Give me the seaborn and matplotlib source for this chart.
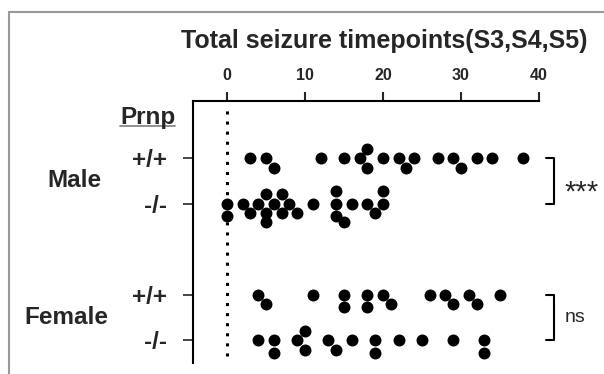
import numpy as np
import pandas as pd
import matplotlib
matplotlib.use("Agg")
import matplotlib.pyplot as plt
import matplotlib.transforms as mtransforms
from matplotlib.lines import Line2D
import seaborn as sns

# seizure timepoints per animal
male_wt = [3, 5, 6, 12, 15, 17, 18, 18, 20, 22, 23, 24, 27, 29, 30, 32, 34, 38]
male_ko = [0, 0, 2, 3, 4, 5, 5, 5, 6, 7, 7, 8, 9, 11, 14, 14, 14, 15, 16, 18, 19, 20, 20]
female_wt = [4, 5, 11, 15, 15, 18, 18, 20, 21, 26, 28, 29, 31, 32, 35]
female_ko = [4, 6, 6, 9, 10, 10, 13, 14, 16, 19, 19, 22, 25, 29, 33, 33]

groups = ["Male +/+", "Male -/-", "", "Female +/+", "Female -/-"]
genotype_labels = ["+/+", "-/-", "+/+", "-/-"]
sex_labels = ["Male", "Female"]
stats = ["***", "ns"]
xticks = [0, 10, 20, 30, 40]

df = pd.concat([
    pd.DataFrame({"group": "Male +/+", "value": male_wt}),
    pd.DataFrame({"group": "Male -/-", "value": male_ko}),
    pd.DataFrame({"group": "Female +/+", "value": female_wt}),
    pd.DataFrame({"group": "Female -/-", "value": female_ko}),
])

sns.set_style("white")
plt.rcParams['font.family'] = ['Liberation Sans', 'DejaVu Sans']

fig = plt.figure(figsize=(6.04, 3.74), dpi=100)
ax = fig.add_axes([193/604, 1 - 363/374, (539 - 193)/604, (363 - 100.5)/374])

sns.swarmplot(data=df, x="value", y="group", order=groups, orient="h",
              color="black", size=8.6, linewidth=0, ax=ax, clip_on=False)

ax.set_xlim(-4.36, 40)
ax.set_ylim(4.505, -1.264)

# dotted zero line
ax.axvline(0, ymin=0.027, ymax=0.97, color="black", lw=2.2,
           linestyle=(0, (1, 2.3)), zorder=0)

# spines / ticks
for s in ["right", "bottom"]:
    ax.spines[s].set_visible(False)
for s in ["top", "left"]:
    ax.spines[s].set_linewidth(1.5)
    ax.spines[s].set_color("black")
ax.xaxis.tick_top()
ax.set_xticks(xticks)
ax.set_xticklabels([str(t) for t in xticks], fontsize=11.5, fontweight="bold")
ax.tick_params(axis="x", direction="out", length=6.5, width=1.5, pad=6, top=True, bottom=False)
ax.set_yticks([0, 1, 3, 4])
ax.set_yticklabels(genotype_labels, fontsize=17.5, fontweight="bold")
ax.tick_params(axis="y", direction="out", length=7, width=1.2, pad=12, left=True)
ax.set_xlabel("")
ax.set_ylabel("")

# group labels
trans = mtransforms.blended_transform_factory(fig.transFigure, ax.transData)
fig.text(74.5/604, 0.5, sex_labels[0], transform=trans, ha="center", va="center",
         fontsize=17.5, fontweight="bold")
fig.text(66/604, 3.5, sex_labels[1], transform=trans, ha="center", va="center",
         fontsize=17.5, fontweight="bold")
fig.text(147.5/604, -0.9, "Prnp", transform=trans, ha="center", va="center",
         fontsize=17.5, fontweight="bold")
fig.add_artist(Line2D([120/604, 175/604], [1 - 126/374, 1 - 126/374],
                      color="#888888", lw=1.3))

# significance brackets
for (y0, y1), lab, fs in zip([(0, 1), (3, 4)], stats, [21, 14]):
    ax.plot([40.9, 41.95, 41.95, 40.9], [y0, y0, y1, y1], color="black",
            lw=1.5, clip_on=False)
    dy = 0.25 if lab == "***" else 0
    ax.text(43.3, (y0 + y1) / 2 + dy, lab, ha="left", va="center", fontsize=fs)

# title
fig.text(384/604, 1 - 41/374, "Total seizure timepoints(S3,S4,S5)",
         ha="center", va="center", fontsize=18, fontweight="bold")

# grey frame of the original panel
fig.add_artist(Line2D([9/604, 9/604], [0, 1 - 12/374], color="#999999", lw=1.5))
fig.add_artist(Line2D([9/604, 1], [1 - 12/374, 1 - 12/374], color="#999999", lw=1.5))

fig.savefig("out.png", dpi=100)
